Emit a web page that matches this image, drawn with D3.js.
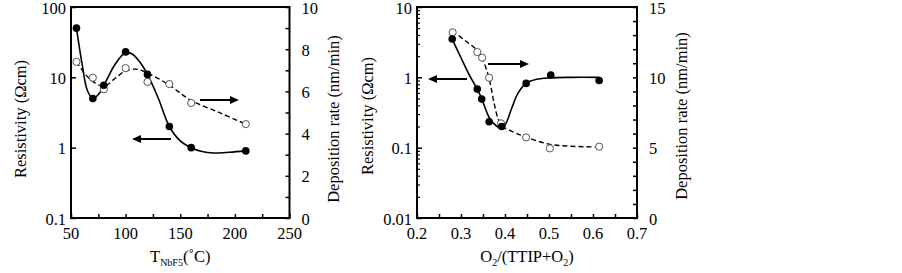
<!DOCTYPE html>
<html><head><meta charset="utf-8">
<script src="https://cdn.jsdelivr.net/npm/d3@7"></script>
<style>
body{margin:0;background:#fff;}
</style></head>
<body><svg id="c" width="902" height="273"></svg>
<script>
// ---- Left panel: T_NbF5 ----
const tempX = [55, 70, 80, 100, 120, 140, 160, 210];
const tempResistivity = [50, 5, 7.7, 23, 11, 2, 1.0, 0.9];
const tempDepRate = [7.4, 6.65, 6.1, 7.1, 6.45, 6.35, 5.45, 4.45];
const tempResFitX = [55, 60, 65, 70, 75, 80, 90, 100, 106, 113, 120, 130, 140, 150, 160, 170, 180, 195, 210];
const tempResFitY = [50, 16, 6.5, 5, 5.7, 7.6, 15, 22.5, 21.5, 16.5, 11, 5, 2, 1.25, 1.0, 0.88, 0.84, 0.86, 0.9];
const tempDepFitX = [55, 67, 80, 90, 100, 110, 122, 140, 159, 187, 210];
const tempDepFitY = [7.4, 6.6, 6.25, 6.6, 6.98, 7.05, 6.82, 6.3, 5.6, 4.97, 4.45];
const leftXTicks = [50, 100, 150, 200, 250];
const leftResTicks = [0.1, 1, 10, 100];
const leftDepTicks = [0, 2, 4, 6, 8, 10];

// ---- Right panel: O2/(TTIP+O2) ----
const o2X = [0.28, 0.337, 0.347, 0.364, 0.3925, 0.448, 0.504, 0.614];
const o2Resistivity = [3.5, 0.68, 0.49, 0.234, 0.2, 0.82, 1.08, 0.9];
const o2DepX = [0.281, 0.337, 0.348, 0.364, 0.391, 0.448, 0.502, 0.614];
const o2DepRate = [13.2, 11.8, 11.4, 9.97, 6.73, 5.73, 4.95, 5.07];
const o2ResFitX = [0.28, 0.30, 0.32, 0.337, 0.347, 0.364, 0.38, 0.392, 0.402, 0.415, 0.43, 0.448, 0.47, 0.5, 0.55, 0.614];
const o2ResFitY = [3.5, 1.9, 1.05, 0.68, 0.5, 0.27, 0.205, 0.19, 0.22, 0.36, 0.6, 0.82, 0.93, 0.98, 1.0, 1.0];
const o2DepFitX = [0.28, 0.31, 0.337, 0.35, 0.364, 0.375, 0.385, 0.395, 0.42, 0.448, 0.5, 0.55, 0.614];
const o2DepFitY = [13.3, 12.6, 11.9, 11.2, 9.9, 8.2, 7.0, 6.5, 6.1, 5.75, 5.25, 5.1, 5.05];
const rightXTicks = [0.2, 0.3, 0.4, 0.5, 0.6, 0.7];
const rightResTicks = [0.01, 0.1, 1, 10];
const rightDepTicks = [0, 5, 10, 15];

const svg = d3.select("#c");
const plotTop = 7, plotBottom = 218;

function panel(cfg) {
  const g = svg.append("g");
  const x = d3.scaleLinear().domain(cfg.xDomain).range([cfg.left, cfg.right]);
  const yL = d3.scaleLog().domain(cfg.resDomain).range([plotBottom, plotTop]);
  const yR = d3.scaleLinear().domain(cfg.depDomain).range([plotBottom, plotTop]);

  // bottom axis (inward ticks)
  const xa = g.append("g").attr("transform", `translate(0,${plotBottom})`)
    .call(d3.axisBottom(x).tickValues(d3.range(cfg.xDomain[0], cfg.xDomain[1] + cfg.xMinor/2, cfg.xMinor)).tickSizeInner(-4).tickSizeOuter(0).tickFormat(""));
  xa.select(".domain").remove();
  xa.selectAll("line").attr("stroke", "#000").attr("stroke-width", 1.5);
  g.selectAll(".xl").data(cfg.xTicks).enter().append("text")
    .attr("x", d => x(d)).attr("y", 239).attr("text-anchor", "middle").text(cfg.xFmt);

  // left log axis
  const la = g.append("g").attr("transform", `translate(${cfg.left},0)`)
    .call(d3.axisLeft(yL).tickValues(cfg.resTicks).tickSizeInner(-5).tickSizeOuter(0).tickFormat(""));
  la.select(".domain").remove();
  la.selectAll("line").attr("stroke", "#000").attr("stroke-width", 1.5);
  if (cfg.logMinor) {
    const minors = [];
    cfg.resTicks.forEach(t => { for (let k = 2; k <= 9; k++) { const v = t * k; if (v < cfg.resDomain[1]) minors.push(v); } });
    const ma = g.append("g").attr("transform", `translate(${cfg.left},0)`)
      .call(d3.axisLeft(yL).tickValues(minors).tickSizeInner(-3).tickSizeOuter(0).tickFormat(""));
    ma.select(".domain").remove();
    ma.selectAll("line").attr("stroke", "#000").attr("stroke-width", 1.2);
  }
  g.selectAll(".yl").data(cfg.resTicks).enter().append("text")
    .attr("x", cfg.left - 5).attr("y", d => yL(d) + 6.5).attr("text-anchor", "end").text(d => d3.format("~g")(d));

  // right linear axis
  const ra = g.append("g").attr("transform", `translate(${cfg.right},0)`)
    .call(d3.axisRight(yR).tickValues(d3.range(cfg.depDomain[0], cfg.depDomain[1] + 0.5, 1)).tickSizeInner(-4).tickSizeOuter(0).tickFormat(""));
  ra.select(".domain").remove();
  ra.selectAll("line").attr("stroke", "#000").attr("stroke-width", 1.5);
  g.selectAll(".yr").data(cfg.depTicks).enter().append("text")
    .attr("x", cfg.right + 12).attr("y", d => yR(d) + 6.5).attr("text-anchor", "start").text(d => d);

  // frame
  g.append("rect").attr("x", cfg.left).attr("y", plotTop).attr("width", cfg.right - cfg.left).attr("height", plotBottom - plotTop)
    .attr("fill", "none").attr("stroke", "#000").attr("stroke-width", 2);

  // curves
  const resFit = cfg.resFitX.map((v, i) => [v, cfg.resFitY[i]]);
  const depFit = cfg.depFitX.map((v, i) => [v, cfg.depFitY[i]]);
  g.append("path").datum(resFit).attr("fill", "none").attr("stroke", "#000").attr("stroke-width", 1.6)
    .attr("d", d3.line().x(d => x(d[0])).y(d => yL(d[1])).curve(d3.curveCatmullRom.alpha(0.5)));
  g.append("path").datum(depFit).attr("fill", "none").attr("stroke", "#000").attr("stroke-width", 1.4)
    .attr("stroke-dasharray", "5,3")
    .attr("d", d3.line().x(d => x(d[0])).y(d => yR(d[1])).curve(d3.curveCatmullRom.alpha(0.5)));

  // markers
  g.selectAll(".od").data(cfg.depX.map((v, i) => [v, cfg.dep[i]])).enter().append("circle")
    .attr("cx", d => x(d[0])).attr("cy", d => yR(d[1])).attr("r", 3.6)
    .attr("fill", "#fff").attr("stroke", "#555").attr("stroke-width", 1);
  g.selectAll(".fr").data(cfg.resX.map((v, i) => [v, cfg.res[i]])).enter().append("circle")
    .attr("cx", d => x(d[0])).attr("cy", d => yL(d[1])).attr("r", 3.8).attr("fill", "#000");

  // arrows
  cfg.arrows.forEach(a => {
    const dir = Math.sign(a[2] - a[0]);
    g.append("line").attr("x1", a[0]).attr("y1", a[1]).attr("x2", a[2] - dir * 6).attr("y2", a[1])
      .attr("stroke", "#000").attr("stroke-width", 2);
    g.append("path").attr("d", `M${a[2]},${a[1]} L${a[2] - dir * 9},${a[1] - 4} L${a[2] - dir * 9},${a[1] + 4} Z`).attr("fill", "#000");
  });

  // axis titles
  g.append("text").attr("transform", `translate(${cfg.resTitleX},${cfg.titleY}) rotate(-90)`)
    .attr("text-anchor", "middle").attr("dominant-baseline", "central").text("Resistivity (Ωcm)");
  g.append("text").attr("transform", `translate(${cfg.depTitleX},${cfg.titleY}) rotate(-90)`)
    .attr("text-anchor", "middle").attr("dominant-baseline", "central").text("Deposition rate (nm/min)");
  cfg.xTitle(g.append("text").attr("x", (cfg.left + cfg.right) / 2).attr("y", 262).attr("text-anchor", "middle"));
}

panel({
  left: 71, right: 289.5, xDomain: [50, 250], xMinor: 25, xTicks: leftXTicks, xFmt: d => d,
  resDomain: [0.1, 100], resTicks: leftResTicks, logMinor: false,
  depDomain: [0, 10], depTicks: leftDepTicks,
  resX: tempX, res: tempResistivity, depX: tempX, dep: tempDepRate,
  resFitX: tempResFitX, resFitY: tempResFitY, depFitX: tempDepFitX, depFitY: tempDepFitY,
  arrows: [[171, 139, 132], [200, 100, 239]],
  resTitleX: 20, depTitleX: 333, titleY: 119,
  xTitle: t => { t.append("tspan").text("T"); t.append("tspan").attr("dy", 4).attr("class", "sub").text("NbF5");
                 t.append("tspan").attr("dy", -4).text("(˚C)"); }
});

panel({
  left: 417, right: 637, xDomain: [0.2, 0.7], xMinor: 0.05, xTicks: rightXTicks, xFmt: d => d3.format(".1f")(d),
  resDomain: [0.01, 10], resTicks: rightResTicks, logMinor: true,
  depDomain: [0, 15], depTicks: rightDepTicks,
  resX: o2X, res: o2Resistivity, depX: o2DepX, dep: o2DepRate,
  resFitX: o2ResFitX, resFitY: o2ResFitY, depFitX: o2DepFitX, depFitY: o2DepFitY,
  arrows: [[467, 79, 428], [488, 64, 529]],
  resTitleX: 367, depTitleX: 681, titleY: 116,
  xTitle: t => { t.append("tspan").text("O"); t.append("tspan").attr("dy", 4).attr("class", "sub").text("2");
                 t.append("tspan").attr("dy", -4).text("/(TTIP+O"); t.append("tspan").attr("dy", 4).attr("class", "sub").text("2");
                 t.append("tspan").attr("dy", -4).text(")"); }
});

// apply fonts inline
svg.selectAll("text").style("font-family", '"Liberation Serif"').style("font-size", "16.5px").style("fill", "#000");
svg.selectAll("tspan").style("font-family", '"Liberation Serif"');
svg.selectAll("tspan.sub").style("font-size", "10px");
</script></body></html>
